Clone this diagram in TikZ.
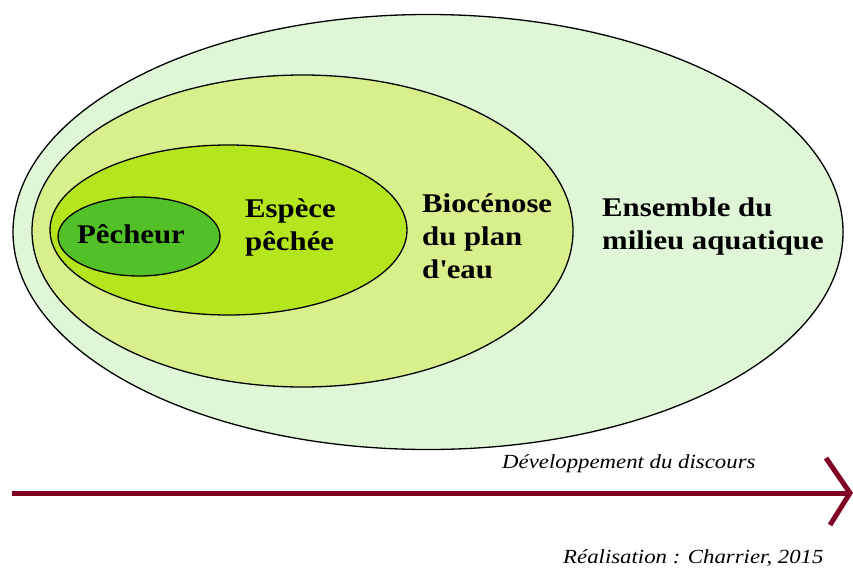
\documentclass[tikz,border=0pt]{standalone}
\usepackage{fontspec}
\setmainfont{Liberation Serif}[FakeStretch=1.14]
\usetikzlibrary{shapes.geometric}
\definecolor{cOuter}{HTML}{DFF7D6}
\definecolor{cBio}{HTML}{D8F08C}
\definecolor{cEsp}{HTML}{B5E61D}
\definecolor{cPech}{HTML}{52C127}
\definecolor{cArrow}{HTML}{7F0022}
\tikzset{
  zone/.style={ellipse, draw=black, line width=1.3pt, inner sep=0pt},
  lbl/.style={anchor=base west, align=left, inner sep=0pt, font=\fontsize{27}{33}\selectfont\bfseries},
  note/.style={anchor=base west, inner sep=0pt, font=\fontsize{20}{22}\selectfont\itshape},
  axis/.style={draw=cArrow, line width=5pt}
}
\begin{document}
\begin{tikzpicture}[x=1pt,y=-1pt]
\useasboundingbox (0,0) rectangle (853,570);
\fill[white] (0,0) rectangle (853,570);
\node[zone, fill=cOuter, minimum width=830pt, minimum height=435pt] (outer) at (428,232) {};
\node[zone, fill=cBio, minimum width=541pt, minimum height=312pt] (bio) at (302.5,231) {};
\node[zone, fill=cEsp, minimum width=357pt, minimum height=170pt] (esp) at (228.5,230) {};
\node[zone, fill=cPech, minimum width=162pt, minimum height=79pt] (pech) at (139,236.5) {};
\node[lbl, anchor=base] (tpech) at (131,243) {Pêcheur};
\node[lbl] (tesp) at (245,250) {Espèce\\pêchée};
\node[lbl] (tbio) at (422,278) {Biocénose\\du plan\\d\textquotesingle eau};
\node[lbl] (tens) at (602,249) {Ensemble du\\milieu aquatique};
\coordinate (a0) at (12,493);
\coordinate (a1) at (850,493);
\coordinate (ct) at (826,458);
\coordinate (cb) at (830,525);
\draw[axis] (a0) -- (a1);
\draw[axis] (ct) -- (a1) -- (cb);
\node[note] (tdev) at (502,468) {Développement du discours};
\node[note] (treal) at (563,563) {Réalisation : Charrier, 2015};
\end{tikzpicture}
\end{document}
